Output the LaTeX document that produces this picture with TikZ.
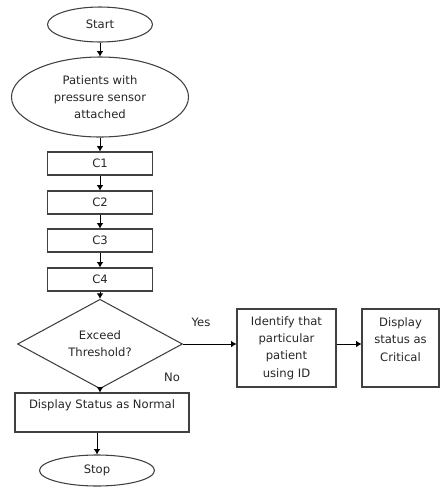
\documentclass[tikz,border=0pt]{standalone}
\usepackage{fontspec}
\setmainfont{DejaVu Sans}
\usetikzlibrary{shapes.geometric,arrows.meta}

\begin{document}
\begin{tikzpicture}[x=0.75pt,y=0.75pt,yscale=-1,xscale=1,
	every node/.style={font=\fontsize{8.7pt}{12.9pt}\selectfont, text=black!85},
	term/.style={draw=black!75, line width=0.8pt, ellipse, inner sep=0pt, align=center},
	proc/.style={draw=black!75, line width=0.8pt, rectangle, inner sep=0pt, align=center},
	decis/.style={draw=black!75, line width=0.8pt, diamond, inner sep=0pt, align=center},
	flow/.style={draw=black, line width=0.75pt, -{Latex[length=4pt,width=5pt]}}]
	%set diagram left start at 0, and has height of 487
	\useasboundingbox (0,0) rectangle (440,487);
	
	%Shape: Ellipse [id:start]
	\node[term, minimum width=78.75pt, minimum height=26.25pt] (start) at (100,24.5) {Start};
	%Shape: Ellipse [id:patients]
	\node[term, minimum width=132.75pt, minimum height=60pt] (pat) at (100,97) {Patients with\\pressure sensor\\attached};
	%Shape: Rectangle [id:c1..c4]
	\foreach \i/\y in {1/163.5,2/202.5,3/240.5,4/279.5}
		\node[proc, minimum width=78.75pt, minimum height=17.25pt] (c\i) at (100,\y) {C\i};
	%Shape: Diamond [id:decision]
	\node[decis, minimum width=123.75pt, minimum height=52.5pt] (dec) at (100,344) {Exceed\\Threshold?};
	%Shape: Rectangle [id:normal]
	\node[proc, minimum width=130.5pt, minimum height=29.25pt] (norm) at (102,412.5) {};
	%Shape: Rectangle [id:identify]
	\node[proc, minimum width=74.25pt, minimum height=58.5pt] (ident) at (286.5,348) {Identify that\\particular\\patient\\using ID};
	%Shape: Rectangle [id:critical]
	\node[proc, minimum width=57.75pt, minimum height=58.5pt] (crit) at (400.5,348) {};
	%Shape: Ellipse [id:stop]
	\node[term, minimum width=86.25pt, minimum height=23.25pt] (stop) at (97,470.5) {Stop};
	
	% Text Node
	\node (normtxt) at (102,405) {Display Status as Normal};
	% Text Node
	\node[align=center] (crittxt) at (400.5,339.5) {Display\\status as\\Critical};
	% Text Node
	\node (yes) at (201,322) {Yes};
	% Text Node
	\node (no) at (172,377) {No};
	
	%Straight Lines
	\draw[flow] (start) -- (pat);
	\draw[flow] (pat) -- (c1);
	\foreach \a/\b in {c1/c2,c2/c3,c3/c4}
		\draw[flow] (\a) -- (\b);
	\draw[flow] (c4) -- (dec);
	\draw[flow] (dec.south) -- (dec.south |- norm.north);
	\draw[flow] (stop.north |- norm.south) -- (stop.north);
	\draw[flow] (dec.east) -- (ident.west |- dec.east);
	\draw[flow] (ident.east |- dec.east) -- (crit.west |- dec.east);
	
\end{tikzpicture}
\end{document}
